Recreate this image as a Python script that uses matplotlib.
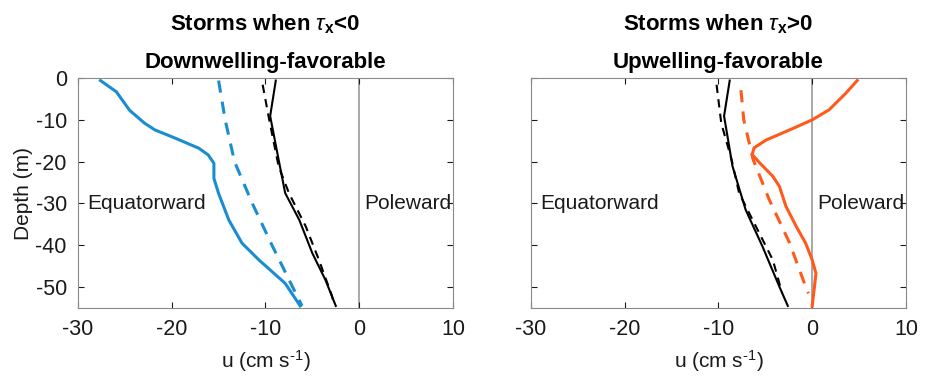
import numpy as np
import matplotlib.pyplot as plt

plt.rcParams['font.family'] = ['Liberation Sans', 'DejaVu Sans']
plt.rcParams['mathtext.fontset'] = 'custom'
plt.rcParams['mathtext.rm'] = 'Liberation Sans'
plt.rcParams['mathtext.it'] = 'Liberation Sans:italic'
plt.rcParams['mathtext.bf'] = 'Liberation Sans:bold'
plt.rcParams['axes.unicode_minus'] = False

blue = '#1a8dd1'
orange = '#ff5a1c'

# downwelling-favorable (tau_x < 0)
dn_obs_u = [-27.6, -25.9, -24.5, -22.9, -21.8, -19.6, -17.1, -16.1, -15.5, -15.5, -15.0, -13.9, -12.5, -10.7, -7.9, -6.3]
dn_obs_z = [-0.6, -3.3, -7.7, -10.8, -12.4, -14.4, -16.8, -18.4, -20.4, -24.0, -27.6, -34.0, -39.5, -43.5, -49.1, -54.5]
dn_mod_u = [-15.0, -14.3, -13.3, -11.4, -9.3, -7.1, -6.1]
dn_mod_z = [-0.6, -10.0, -20.0, -30.0, -40.0, -50.0, -54.5]
dn_all_u = [-8.9, -9.5, -8.6, -7.9, -6.4, -5.0, -3.6, -2.5]
dn_all_z = [-0.6, -9.1, -19.5, -27.5, -33.9, -41.9, -48.3, -54.5]
dn_allm_u = [-10.3, -9.6, -8.6, -7.5, -5.7, -4.3, -3.0, -2.8]
dn_allm_z = [-1.6, -10.0, -21.1, -27.5, -35.5, -43.5, -51.5, -53.0]

# upwelling-favorable (tau_x > 0)
up_obs_u = [4.8, 3.6, 1.8, 0.0, -2.4, -4.9, -6.2, -6.4, -5.6, -4.2, -3.5, -2.8, -1.7, -0.7, 0.0, 0.4, 0.2, 0.0]
up_obs_z = [-0.6, -3.6, -7.6, -10.0, -12.4, -14.8, -16.7, -18.3, -20.3, -23.5, -25.9, -30.7, -35.5, -39.5, -43.5, -46.7, -50.7, -54.5]
up_mod_u = [-7.6, -7.3, -6.3, -4.6, -2.4, -0.7, -0.4]
up_mod_z = [-2.9, -10.0, -19.5, -29.0, -39.5, -49.9, -51.5]
up_all_u = [-8.8, -9.4, -8.5, -7.1, -5.3, -3.5, -2.6]
up_all_z = [-0.6, -9.1, -21.1, -31.5, -40.3, -49.9, -54.5]
up_allm_u = [-10.2, -9.7, -8.6, -7.8, -6.0, -4.2, -3.2]
up_allm_z = [-1.6, -10.8, -19.5, -27.5, -35.5, -43.5, -51.5]

fig = plt.figure(figsize=(9.25, 3.77), dpi=100)
ax1 = fig.add_axes([0.0843, 0.183, 0.4054, 0.610])
ax2 = fig.add_axes([0.574, 0.183, 0.4054, 0.610])

panels = [
    (ax1, r'Storms when $\tau_\mathbf{x}$<0', 'Downwelling-favorable', blue,
     (dn_obs_u, dn_obs_z), (dn_mod_u, dn_mod_z), (dn_all_u, dn_all_z), (dn_allm_u, dn_allm_z)),
    (ax2, r'Storms when $\tau_\mathbf{x}$>0', 'Upwelling-favorable', orange,
     (up_obs_u, up_obs_z), (up_mod_u, up_mod_z), (up_all_u, up_all_z), (up_allm_u, up_allm_z)),
]

for ax, t1, t2, col, obs, mod, alls, allm in panels:
    ax.axvline(0, color='#9a9a9a', lw=1.2, zorder=1)
    ax.plot(*alls, color='black', lw=1.5)
    ax.plot(*allm, color='black', lw=1.5, ls=(0, (4, 3)))
    ax.plot(*obs, color=col, lw=2.2)
    ax.plot(*mod, color=col, lw=2.2, ls=(0, (4, 3)))
    ax.set_xlim(-30, 10)
    ax.set_ylim(-55, 0)
    ax.set_xticks([-30, -20, -10, 0, 10])
    ax.set_yticks([-50, -40, -30, -20, -10, 0])
    ax.tick_params(direction='in', top=True, right=True, labelsize=15.5, colors='#1a1a1a', length=4, pad=8)
    for s in ax.spines.values():
        s.set_color('#8a8a8a')
    ax.set_xlabel(r'u (cm s$^{\text{-1}}$)', fontsize=15, color='#1a1a1a', labelpad=6)
    ax.text(0.5, 1.205, t1, transform=ax.transAxes, ha='center', va='baseline',
            fontsize=16, fontweight='bold')
    ax.text(0.5, 1.045, t2, transform=ax.transAxes, ha='center', va='baseline',
            fontsize=16, fontweight='bold')
    ax.text(-29, -30, 'Equatorward', fontsize=15, va='center', ha='left', color='#1a1a1a')
    ax.text(0.5, -30, 'Poleward', fontsize=15, va='center', ha='left', color='#1a1a1a')

ax1.set_ylabel('Depth (m)', fontsize=15, color='#1a1a1a', labelpad=2)
ax2.set_yticklabels([])

fig.savefig('out.png', dpi=100)
